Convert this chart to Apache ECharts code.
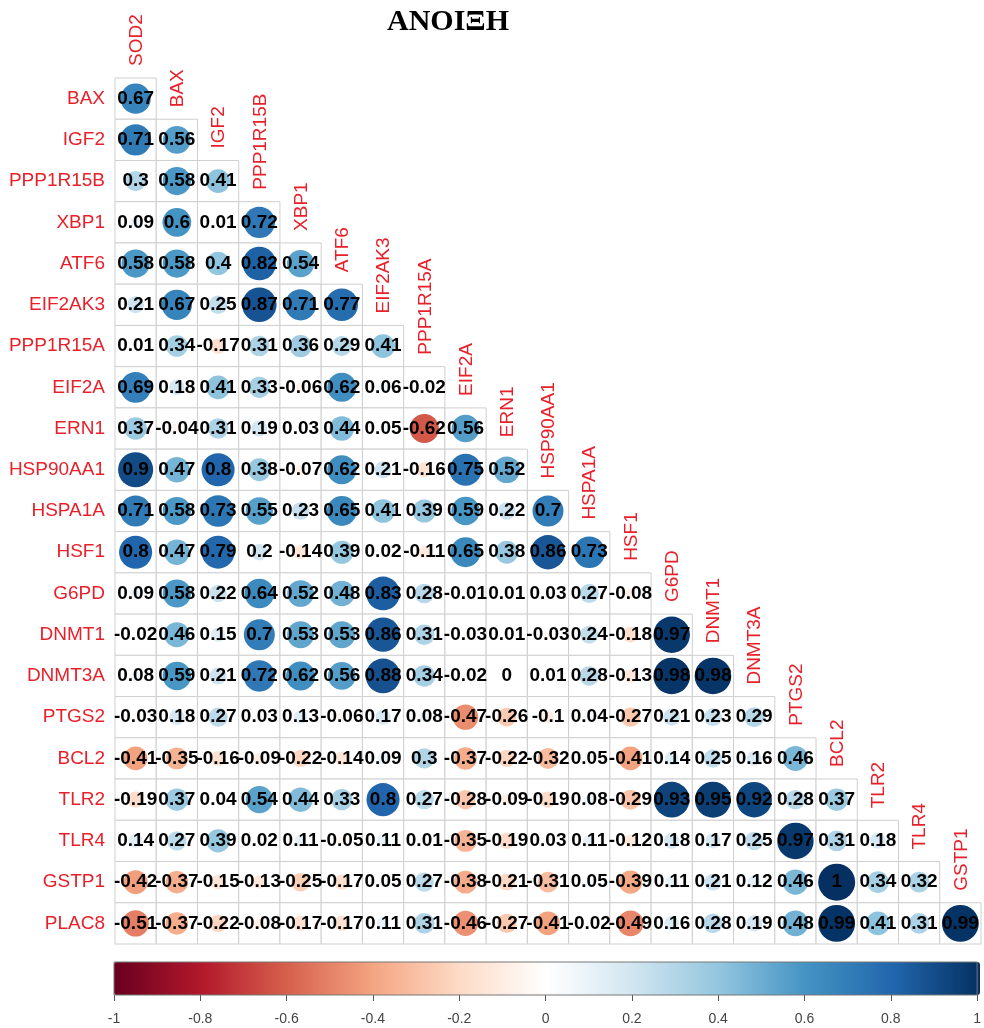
<!DOCTYPE html>
<html>
<head>
<meta charset="utf-8">
<script src="https://cdn.jsdelivr.net/npm/echarts@6/dist/echarts.min.js"></script>
<style>html,body{margin:0;padding:0;background:#fff}#c{width:984px;height:1028px}</style>
</head>
<body>
<div id="c"></div>
<script>
const titleText = 'ΑΝΟΙΞΗ';
const variables = ['SOD2','BAX','IGF2','PPP1R15B','XBP1','ATF6','EIF2AK3','PPP1R15A','EIF2A','ERN1','HSP90AA1','HSPA1A','HSF1','G6PD','DNMT1','DNMT3A','PTGS2','BCL2','TLR2','TLR4','GSTP1','PLAC8'];

// lower-triangle correlations, one array per row (row variable vs. preceding variables)
const rowBAX      = [0.67];
const rowIGF2     = [0.71, 0.56];
const rowPPP1R15B = [0.3, 0.58, 0.41];
const rowXBP1     = [0.09, 0.6, 0.01, 0.72];
const rowATF6     = [0.58, 0.58, 0.4, 0.82, 0.54];
const rowEIF2AK3  = [0.21, 0.67, 0.25, 0.87, 0.71, 0.77];
const rowPPP1R15A = [0.01, 0.34, -0.17, 0.31, 0.36, 0.29, 0.41];
const rowEIF2A    = [0.69, 0.18, 0.41, 0.33, -0.06, 0.62, 0.06, -0.02];
const rowERN1     = [0.37, -0.04, 0.31, 0.19, 0.03, 0.44, 0.05, -0.62, 0.56];
const rowHSP90AA1 = [0.9, 0.47, 0.8, 0.38, -0.07, 0.62, 0.21, -0.16, 0.75, 0.52];
const rowHSPA1A   = [0.71, 0.58, 0.73, 0.55, 0.23, 0.65, 0.41, 0.39, 0.59, 0.22, 0.7];
const rowHSF1     = [0.8, 0.47, 0.79, 0.2, -0.14, 0.39, 0.02, -0.11, 0.65, 0.38, 0.86, 0.73];
const rowG6PD     = [0.09, 0.58, 0.22, 0.64, 0.52, 0.48, 0.83, 0.28, -0.01, 0.01, 0.03, 0.27, -0.08];
const rowDNMT1    = [-0.02, 0.46, 0.15, 0.7, 0.53, 0.53, 0.86, 0.31, -0.03, 0.01, -0.03, 0.24, -0.18, 0.97];
const rowDNMT3A   = [0.08, 0.59, 0.21, 0.72, 0.62, 0.56, 0.88, 0.34, -0.02, 0, 0.01, 0.28, -0.13, 0.98, 0.98];
const rowPTGS2    = [-0.03, 0.18, 0.27, 0.03, 0.13, -0.06, 0.17, 0.08, -0.47, -0.26, -0.1, 0.04, -0.27, 0.21, 0.23, 0.29];
const rowBCL2     = [-0.41, -0.35, -0.16, -0.09, -0.22, -0.14, 0.09, 0.3, -0.37, -0.22, -0.32, 0.05, -0.41, 0.14, 0.25, 0.16, 0.46];
const rowTLR2     = [-0.19, 0.37, 0.04, 0.54, 0.44, 0.33, 0.8, 0.27, -0.28, -0.09, -0.19, 0.08, -0.29, 0.93, 0.95, 0.92, 0.28, 0.37];
const rowTLR4     = [0.14, 0.27, 0.39, 0.02, 0.11, -0.05, 0.11, 0.01, -0.35, -0.19, 0.03, 0.11, -0.12, 0.18, 0.17, 0.25, 0.97, 0.31, 0.18];
const rowGSTP1    = [-0.42, -0.37, -0.15, -0.13, -0.25, -0.17, 0.05, 0.27, -0.38, -0.21, -0.31, 0.05, -0.39, 0.11, 0.21, 0.12, 0.46, 1, 0.34, 0.32];
const rowPLAC8    = [-0.51, -0.37, -0.22, -0.08, -0.17, -0.17, 0.11, 0.31, -0.46, -0.27, -0.41, -0.02, -0.49, 0.16, 0.28, 0.19, 0.48, 0.99, 0.41, 0.31, 0.99];

const colorbarTicks = [-1, -0.8, -0.6, -0.4, -0.2, 0, 0.2, 0.4, 0.6, 0.8, 1];

const rows = [rowBAX,rowIGF2,rowPPP1R15B,rowXBP1,rowATF6,rowEIF2AK3,rowPPP1R15A,rowEIF2A,rowERN1,rowHSP90AA1,rowHSPA1A,rowHSF1,rowG6PD,rowDNMT1,rowDNMT3A,rowPTGS2,rowBCL2,rowTLR2,rowTLR4,rowGSTP1,rowPLAC8];
const colNames = variables.slice(0, variables.length - 1);
const rowNames = variables.slice(1);

const points = [];
rows.forEach((arr, r) => arr.forEach((v, c) => points.push([c, r, v])));
const colLabelData = colNames.map((n, j) => [j, j, n]);

const RdBu = ['#67001F','#B2182B','#D6604D','#F4A582','#FDDBC7','#FFFFFF','#D1E5F0','#92C5DE','#4393C3','#2166AC','#053061'];

const chart = echarts.init(document.getElementById('c'));
chart.setOption({
  animation: false,
  backgroundColor: '#fff',
  title: {
    text: titleText, left: 382, top: 2,
    textStyle: { fontFamily: 'Liberation Serif', fontWeight: 'bold', fontSize: 30, color: '#000' }
  },
  grid: [
    { left: 115, top: 78, width: 866, height: 866 },
    { left: 114, top: 962, width: 866, height: 33, show: true, borderColor: '#777', borderWidth: 1, backgroundColor: 'transparent', z: 5 }
  ],
  xAxis: [
    { type: 'category', data: colNames, gridIndex: 0, show: false },
    { type: 'value', gridIndex: 1, min: -1, max: 1, interval: 0.2, position: 'bottom',
      axisLine: { show: false }, splitLine: { show: false },
      axisTick: { show: true, length: 6, lineStyle: { color: '#555' } },
      axisLabel: { margin: 17, fontSize: 14, color: '#444', fontFamily: 'Liberation Sans',
        formatter: v => { const t = colorbarTicks.find(k => Math.abs(k - v) < 1e-6); return t === undefined ? '' : String(t); } } }
  ],
  yAxis: [
    { type: 'category', data: rowNames, inverse: true, gridIndex: 0,
      axisLine: { show: false }, axisTick: { show: false }, splitLine: { show: false },
      axisLabel: { color: '#E8202A', fontSize: 19, margin: 10, fontFamily: 'Liberation Sans' } },
    { type: 'value', gridIndex: 1, show: false, min: 0, max: 1 }
  ],
  visualMap: {
    type: 'continuous', min: -1, max: 1, seriesIndex: 1, dimension: 2,
    orient: 'horizontal', left: 114, top: 962, itemWidth: 33, itemHeight: 866,
    padding: 0, calculable: false, hoverLink: false, text: null, showLabel: false,
    inRange: { color: RdBu }
  },
  series: [
    {
      type: 'custom', xAxisIndex: 0, yAxisIndex: 0, data: points.map(p => [p[0], p[1]]), silent: true,
      renderItem: (params, api) => {
        const p = api.coord([api.value(0), api.value(1)]);
        const s = api.size([1, 1]);
        return { type: 'rect', shape: { x: p[0] - s[0] / 2, y: p[1] - s[1] / 2, width: s[0], height: s[1] },
          style: { fill: '#fff', stroke: '#cfcfcf', lineWidth: 1 } };
      }
    },
    {
      type: 'scatter', xAxisIndex: 0, yAxisIndex: 0, data: points, z: 3,
      symbol: 'circle',
      symbolSize: v => 37 * Math.sqrt(Math.abs(v[2])),
      itemStyle: { opacity: 1 },
      label: { show: true, position: 'inside', formatter: p => String(p.value[2]),
        color: '#000', fontWeight: 'bold', fontSize: 19, fontFamily: 'Liberation Sans' },
      emphasis: { disabled: true }
    },
    {
      type: 'custom', xAxisIndex: 0, yAxisIndex: 0, data: colLabelData, silent: true, z: 4,
      renderItem: (params, api) => {
        const j = api.value(0);
        const p = api.coord([j, api.value(1)]);
        const s = api.size([1, 1]);
        return { type: 'text', x: p[0] + 1, y: p[1] - s[1] / 2 - 12, rotation: Math.PI / 2,
          style: { text: colNames[j], align: 'left', verticalAlign: 'middle', fill: '#E8202A',
            font: '19px "Liberation Sans"' } };
      }
    }
  ]
});
</script>
</body>
</html>
